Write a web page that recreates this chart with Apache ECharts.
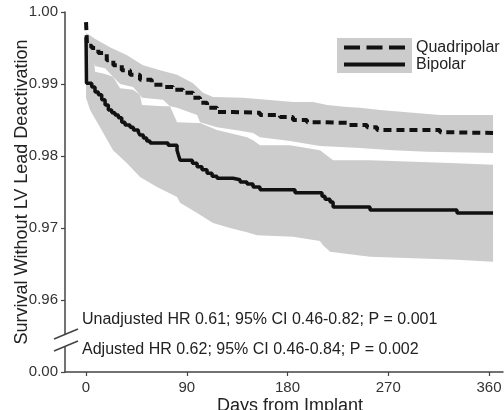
<!DOCTYPE html>
<html>
<head>
<meta charset="utf-8">
<script src="https://cdn.jsdelivr.net/npm/echarts@6/dist/echarts.min.js"></script>
<style>
html,body{margin:0;padding:0;background:#fff;}
#chart{width:504px;height:410px;}
</style>
</head>
<body>
<div id="chart"></div>
<script>
// ---- Data ----
const xTicks = [0, 90, 180, 270, 360];
const yTicks = [0.95, 0.96, 0.97, 0.98, 0.99, 1.00];
const yTickLabels = ['0.00', '0.96', '0.97', '0.98', '0.99', '1.00'];

const seriesNames = ['Quadripolar', 'Bipolar'];

// Kaplan-Meier step curves (day, survival after the step)
const quadDays = [0, 0.9, 5.1, 11.0, 18.5, 24.4, 31.9, 39.3, 48.2, 58.7, 68.8, 77.7, 86.7, 95.6, 101.8, 108.1, 117.0, 131.3, 155.4, 173.3, 184.9, 197.4, 211.7, 233.2, 251.0, 260.0, 316.2, 322.5, 363.6];
const quadSurv = [0.9986, 0.9953, 0.9950, 0.9943, 0.9933, 0.9926, 0.9919, 0.9913, 0.9906, 0.9899, 0.9896, 0.9892, 0.9888, 0.9881, 0.9874, 0.9867, 0.9861, 0.9860, 0.9857, 0.9854, 0.9850, 0.9847, 0.9846, 0.9843, 0.9840, 0.9836, 0.9833, 0.9832, 0.9832];

const bipDays = [0, 0.4, 5.1, 8.0, 11.0, 14.0, 17.0, 19.9, 23.0, 25.9, 28.9, 31.9, 34.8, 39.3, 42.3, 46.7, 48.2, 51.2, 54.2, 57.2, 73.3, 81.3, 82.6, 84.0, 95.0, 99.2, 103.6, 108.1, 112.6, 117.0, 131.3, 137.6, 143.8, 149.2, 155.4, 186.7, 210.8, 213.5, 218.0, 220.7, 253.7, 331.4, 363.6];
const bipSurv = [0.9965, 0.9901, 0.9896, 0.9889, 0.9885, 0.9878, 0.9871, 0.9864, 0.9860, 0.9857, 0.9853, 0.9847, 0.9843, 0.9840, 0.9836, 0.9833, 0.9829, 0.9825, 0.9821, 0.9818, 0.9815, 0.9808, 0.9801, 0.9794, 0.9790, 0.9785, 0.9781, 0.9776, 0.9772, 0.9769, 0.9767, 0.9764, 0.9761, 0.9757, 0.9753, 0.9749, 0.9744, 0.9740, 0.9736, 0.9729, 0.9725, 0.9721, 0.9721];

// 95% confidence bands
const quadUpperDays = [0, 9.8, 21.4, 36.6, 50.9, 66.1, 81.3, 95.6, 104.5, 113.5, 140.3, 184.9, 202.8, 215.3, 233.2, 244.8, 262.6, 292.1, 316.2, 363.6];
const quadUpper = [0.9971, 0.9961, 0.9951, 0.9940, 0.9926, 0.9919, 0.9913, 0.9901, 0.9888, 0.9882, 0.9881, 0.9875, 0.9875, 0.9871, 0.9868, 0.9867, 0.9864, 0.9860, 0.9857, 0.9857];
const quadLowerDays = [0, 8.0, 17.0, 24.1, 30.4, 42.0, 48.2, 50.0, 68.8, 75.0, 81.3, 99.2, 101.8, 117.0, 137.6, 149.2, 155.4, 182.2, 209.0, 244.8, 274.3, 304.6, 363.6];
const quadLower = [0.9961, 0.9925, 0.9922, 0.9910, 0.9900, 0.9896, 0.9885, 0.9881, 0.9878, 0.9869, 0.9867, 0.9857, 0.9847, 0.9840, 0.9835, 0.9832, 0.9826, 0.9821, 0.9814, 0.9811, 0.9808, 0.9806, 0.9804];

const bipUpperDays = [0, 7.2, 8.0, 17.0, 24.1, 30.4, 42.0, 48.2, 50.0, 68.8, 75.0, 81.3, 99.2, 101.8, 117.0, 143.8, 149.2, 155.4, 182.2, 209.0, 220.7, 253.7, 331.4, 363.6];
const bipUpper = [0.9965, 0.9933, 0.9917, 0.9914, 0.9910, 0.9894, 0.9892, 0.9885, 0.9871, 0.9869, 0.9869, 0.9847, 0.9846, 0.9846, 0.9836, 0.9826, 0.9822, 0.9815, 0.9815, 0.9808, 0.9794, 0.9794, 0.9790, 0.9788];
const bipLowerDays = [0, 3.6, 12.5, 24.1, 36.6, 48.2, 63.4, 81.3, 84.0, 99.2, 113.5, 128.6, 143.8, 152.8, 184.9, 209.0, 211.7, 218.0, 253.7, 331.4, 363.6];
const bipLower = [0.9881, 0.9864, 0.9840, 0.9808, 0.9790, 0.9771, 0.9757, 0.9743, 0.9735, 0.9721, 0.9707, 0.9700, 0.9694, 0.9690, 0.9688, 0.9682, 0.9676, 0.9667, 0.9660, 0.9656, 0.9653];

const annotations = [
  'Unadjusted HR 0.61; 95% CI 0.46-0.82; P = 0.001',
  'Adjusted HR 0.62; 95% CI 0.46-0.84; P = 0.002'
];

// ---- Build ----
const FONT = '"Liberation Sans", Arial, Helvetica, sans-serif';
const zip = (a, b) => a.map((v, i) => [v, b[i]]);

function bandSeries(upD, up, loD, lo) {
  return {
    type: 'custom',
    silent: true,
    z: 1,
    data: [[upD[0], up[0]]],
    renderItem: function (params, api) {
      if (params.dataIndex !== 0) return null;
      const pts = [];
      for (let i = 0; i < upD.length; i++) pts.push(api.coord([upD[i], up[i]]));
      for (let i = loD.length - 1; i >= 0; i--) pts.push(api.coord([loD[i], lo[i]]));
      return { type: 'polygon', shape: { points: pts }, style: { fill: '#cccccc', stroke: null } };
    }
  };
}

const chart = echarts.init(document.getElementById('chart'), null, { renderer: 'canvas' });
const axisColor = '#444';

chart.setOption({
  animation: false,
  backgroundColor: '#fff',
  grid: { left: 65, top: 12, width: 438, height: 360, containLabel: false, outerBoundsMode: 'none' },
  xAxis: {
    type: 'value', min: -18.8, max: 372.5,
    name: 'Days from Implant', nameLocation: 'middle', nameGap: 25, nameMoveOverlap: false,
    nameTextStyle: { fontSize: 18, color: '#222', fontFamily: FONT, padding: [0, 0, 0, 12] },
    axisLine: { show: true, onZero: false, lineStyle: { color: axisColor, width: 1.5 } },
    axisTick: { show: true, length: 4, customValues: xTicks, lineStyle: { color: axisColor, width: 1.2 } },
    axisLabel: { customValues: xTicks, fontSize: 15, color: '#333', fontFamily: FONT, margin: 8 },
    splitLine: { show: false }
  },
  yAxis: {
    type: 'value', min: 0.95, max: 1.0,
    name: 'Survival Without LV Lead Deactivation', nameLocation: 'middle', nameGap: 34, nameMoveOverlap: false,
    nameTextStyle: { fontSize: 18, color: '#222', fontFamily: FONT },
    axisLine: { show: true, onZero: false, lineStyle: { color: axisColor, width: 1.5 } },
    axisTick: { show: true, length: 4, customValues: yTicks, lineStyle: { color: axisColor, width: 1.2 } },
    axisLabel: {
      customValues: yTicks, fontSize: 15, color: '#333', fontFamily: FONT, margin: 7,
      formatter: function (v) {
        const i = yTicks.findIndex(t => Math.abs(t - v) < 1e-6);
        return i >= 0 ? yTickLabels[i] : '';
      }
    },
    splitLine: { show: false }
  },
  legend: {
    orient: 'vertical', left: 344, top: 39, padding: 0,
    itemWidth: 61, itemHeight: 4.5, itemGap: 0,
    textStyle: { fontSize: 16, lineHeight: 17, color: '#222', fontFamily: FONT, padding: [0, 0, 0, 6] },
    selectedMode: false,
    data: [
      { name: seriesNames[0], icon: 'path://M0,0h16v4h-16z M22.5,0h16v4h-16z M45,0h16v4h-16z', itemStyle: { color: '#111' } },
      { name: seriesNames[1], icon: 'path://M0,0h61v4h-61z', itemStyle: { color: '#111' } }
    ]
  },
  series: [
    bandSeries(quadUpperDays, quadUpper, quadLowerDays, quadLower),
    bandSeries(bipUpperDays, bipUpper, bipLowerDays, bipLower),
    {
      name: seriesNames[0], type: 'line', step: 'end', symbol: 'none', z: 3,
      lineStyle: { color: '#111', width: 4, type: [8, 5] }, itemStyle: { color: '#111' },
      data: zip(quadDays, quadSurv)
    },
    {
      name: seriesNames[1], type: 'line', step: 'end', symbol: 'none', z: 3,
      lineStyle: { color: '#111', width: 3.5 }, itemStyle: { color: '#111' },
      data: zip(bipDays, bipSurv)
    }
  ],
  graphic: [
    { type: 'rect', z: 3, shape: { x: 337, y: 38, width: 75, height: 35 }, style: { fill: '#cccccc' } },
    { type: 'rect', z: 100, shape: { x: 60, y: 335, width: 10, height: 11 }, style: { fill: '#fff' } },
    { type: 'line', z: 101, shape: { x1: 54, y1: 339, x2: 78, y2: 329 }, style: { stroke: axisColor, lineWidth: 1.5 } },
    { type: 'line', z: 101, shape: { x1: 54, y1: 351, x2: 78, y2: 341 }, style: { stroke: axisColor, lineWidth: 1.5 } },
    { type: 'text', z: 101, x: 82, y: 320, style: { text: annotations[0], fontSize: 16, fontFamily: FONT, fill: '#222', verticalAlign: 'middle' } },
    { type: 'text', z: 101, x: 82, y: 350, style: { text: annotations[1], fontSize: 16, fontFamily: FONT, fill: '#222', verticalAlign: 'middle' } }
  ]
});
</script>
</body>
</html>
